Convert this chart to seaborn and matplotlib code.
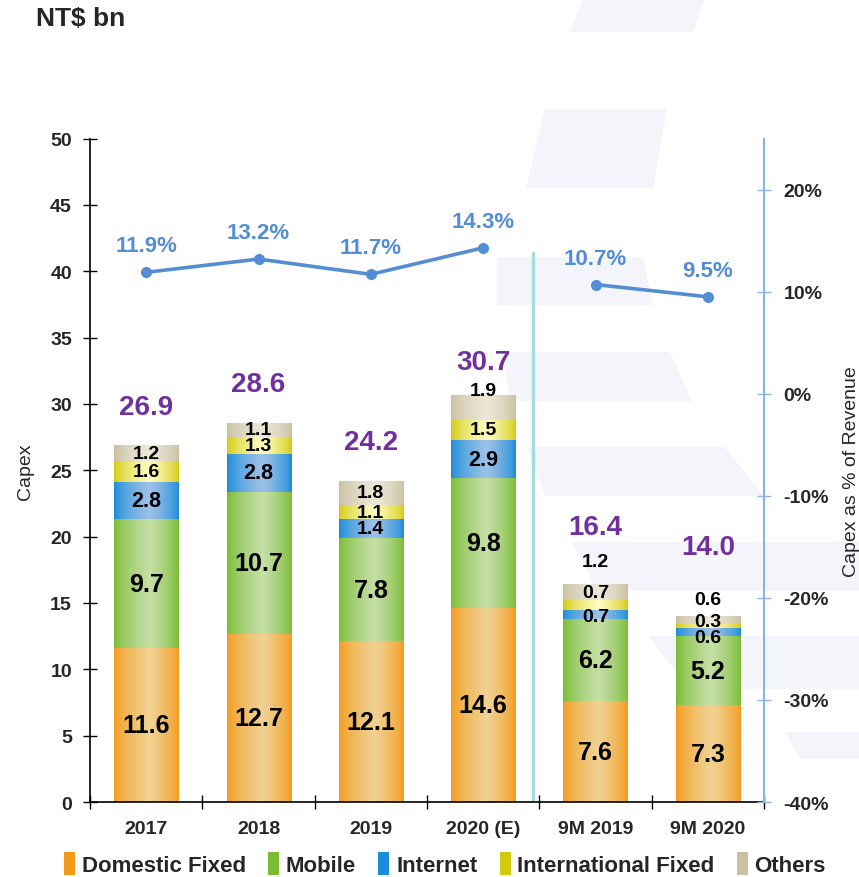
import numpy as np
import pandas as pd
import matplotlib.pyplot as plt
import seaborn as sns
from matplotlib.patches import Patch, Polygon
from matplotlib.colors import to_rgb
from matplotlib.ticker import FuncFormatter

sns.set_theme(style='white')
plt.rcParams['font.family'] = ['Liberation Sans', 'DejaVu Sans']

# data
periods = ['2017', '2018', '2019', '2020 (E)', '9M 2019', '9M 2020']
domestic_fixed = [11.6, 12.7, 12.1, 14.6, 7.6, 7.3]
mobile = [9.7, 10.7, 7.8, 9.8, 6.2, 5.2]
internet = [2.8, 2.8, 1.4, 2.9, 0.7, 0.6]
intl_fixed = [1.6, 1.3, 1.1, 1.5, 0.7, 0.3]
others = [1.2, 1.1, 1.8, 1.9, 1.2, 0.6]
totals = [26.9, 28.6, 24.2, 30.7, 16.4, 14.0]
capex_pct = [11.9, 13.2, 11.7, 14.3, 10.7, 9.5]
pct_group = ['annual', 'annual', 'annual', 'annual', '9M', '9M']

layer_names = ['Domestic Fixed', 'Mobile', 'Internet', 'International Fixed', 'Others']
layers = [domestic_fixed, mobile, internet, intl_fixed, others]
edge_colors = ['#F39A1C', '#79BC33', '#1A8CD8', '#D2CA0E', '#C8C0A2']
light_colors = ['#F0D394', '#C6DFA6', '#9EC2E8', '#FFFDC4', '#EEE8DA']
LINE = '#548DD4'
PURPLE = '#7030A0'

cum = np.cumsum(np.array(layers), axis=0)

fig = plt.figure(figsize=(8.59, 8.78), dpi=100)

# faint watermark shapes in the background (pixel coords, y from top)
W, H = 859, 878
shapes = [
    [(583, 0), (704, 0), (693, 33), (570, 33)],
    [(545, 110), (667, 110), (653, 189), (526, 189)],
    [(497, 258), (643, 258), (653, 306), (497, 306)],
    [(503, 353), (670, 353), (692, 402), (510, 402)],
    [(527, 448), (725, 448), (763, 497), (545, 497)],
    [(572, 543), (859, 543), (859, 592), (597, 592)],
    [(648, 637), (859, 637), (859, 690), (690, 690)],
    [(785, 733), (859, 733), (859, 760), (800, 760)],
]
for s in shapes:
    fig.patches.append(Polygon([(x / W, 1 - y / H) for x, y in s], closed=True,
                               transform=fig.transFigure, facecolor='#F4F5FA',
                               edgecolor='none', zorder=-1))

ax = fig.add_axes([0.1048, 0.0854, 0.7846, 0.7556])
ax.patch.set_alpha(0)

# stacked bars: draw cumulative heights from the top layer down
t = np.linspace(0, 1, 80)
wgt = np.where(t < 0.55, t / 0.55, (1 - t) / 0.45)
wgt = np.clip(wgt, 0, 1) ** 0.7
for i in reversed(range(5)):
    n0 = len(ax.patches)
    sns.barplot(x=periods, y=cum[i], ax=ax, color=edge_colors[i], width=0.57,
                saturation=1, linewidth=0)
    e, l = np.array(to_rgb(edge_colors[i])), np.array(to_rgb(light_colors[i]))
    grad = (e[None, :] * (1 - wgt[:, None]) + l[None, :] * wgt[:, None])[None, :, :]
    for p in ax.patches[n0:]:
        x0, w, h = p.get_x(), p.get_width(), p.get_height()
        im = ax.imshow(grad, extent=(x0, x0 + w, 0, h), aspect='auto',
                       interpolation='bilinear', zorder=2 + (5 - i) * 0.1)
        im.set_clip_path(p)
        p.set_zorder(1.9)

ax.set_xlim(-0.5, 5.5)
ax.set_ylim(0, 50)

# segment labels (thin top segments were nudged by hand in the source)
nudged = {(3, 4): 31.0, (4, 2): 14.0, (4, 3): 15.8, (4, 4): 18.1,
          (5, 2): 12.4, (5, 3): 13.6, (5, 4): 15.3}
for i in range(5):
    for j in range(len(periods)):
        val = layers[i][j]
        bottom = cum[i - 1][j] if i > 0 else 0
        y = nudged.get((j, i), (bottom + cum[i][j]) / 2)
        size = 18 if val >= 5 else (15.5 if val >= 2 else 14)
        ax.text(j, y, f'{val:.1f}', ha='center', va='center',
                fontsize=size, fontweight='bold', color='black', zorder=5)

total_y = {3: 33.2, 4: 20.7, 5: 19.2}
for j, tot in enumerate(totals):
    ax.text(j, total_y.get(j, tot + 2.9), f'{tot:.1f}', ha='center', va='center',
            fontsize=20, fontweight='bold', color=PURPLE, zorder=5)

# divider between full-year and 9M figures
ax.axvline(3.44, ymin=0, ymax=41.4 / 50, color='#A9DADD', lw=2.5, zorder=1.5)

ax.set_yticks(range(0, 51, 5))
ax.set_xticks(np.arange(-0.5, 6, 1), minor=True)
ax.tick_params(axis='y', direction='inout', length=10, width=1, color='black',
               left=True, labelsize=14, pad=8)
ax.tick_params(axis='x', which='minor', direction='inout', length=10, width=1,
               color='black', bottom=True)
ax.tick_params(axis='x', which='major', length=0, pad=13)
for lab in ax.get_yticklabels():
    lab.set_fontweight('bold')
for lab in ax.get_xticklabels():
    lab.set_fontweight('bold')
    lab.set_fontsize(14)
for side in ['top', 'right']:
    ax.spines[side].set_visible(False)
for side in ['left', 'bottom']:
    ax.spines[side].set_color('black')
    ax.spines[side].set_linewidth(1.2)
ax.set_ylabel('Capex', fontsize=14, labelpad=12)
ax.set_xlabel('')

# capex as % of revenue line on the right axis
ax2 = ax.twinx()
line_df = pd.DataFrame({'pos': range(len(periods)), 'pct': capex_pct, 'grp': pct_group})
sns.lineplot(data=line_df, x='pos', y='pct', units='grp', estimator=None, ax=ax2,
             color=LINE, lw=2.6, marker='o', markersize=8, markeredgewidth=0)
for j, v in enumerate(capex_pct):
    ax2.annotate(f'{v:.1f}%', (j, v), xytext=(0, 19), textcoords='offset points',
                 ha='center', va='center', fontsize=16, fontweight='bold', color=LINE)
ax2.set_ylim(-40, 25)
ax2.set_xlim(-0.5, 5.5)
ax2.set_yticks(range(-40, 21, 10))
ax2.yaxis.set_major_formatter(FuncFormatter(lambda v, _: f'{v:.0f}%'))
ax2.tick_params(axis='y', direction='inout', length=10, width=1, color='#8DB3E2',
                right=True, labelsize=14, pad=9)
for lab in ax2.get_yticklabels():
    lab.set_fontweight('bold')
for side in ['top', 'left', 'bottom']:
    ax2.spines[side].set_visible(False)
ax2.spines['right'].set_color('#8DB3E2')
ax2.spines['right'].set_linewidth(1.5)
ax2.set_ylabel('Capex as % of Revenue', fontsize=14, labelpad=10)
ax2.set_xlabel('')

fig.text(36 / W, 1 - 19 / H, 'NT$ bn', fontsize=19, fontweight='bold',
         ha='left', va='center')

handles = [Patch(facecolor=c, edgecolor='none') for c in edge_colors]
fig.legend(handles, layer_names, loc='center', bbox_to_anchor=(0.518, 0.0148),
           ncol=5, frameon=False, handlelength=0.5, handleheight=1.2,
           handletextpad=0.3, columnspacing=1.0,
           prop={'weight': 'bold', 'size': 16})

fig.savefig('out.png', dpi=100)
